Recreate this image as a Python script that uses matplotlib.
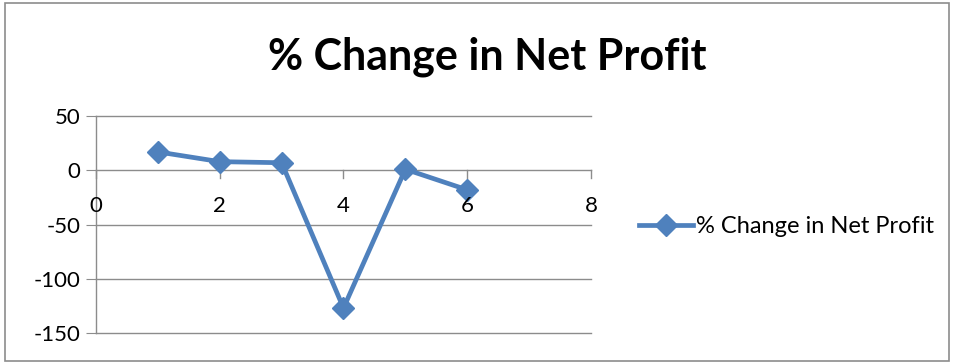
"""
% Change in Net Profit - Excel style line chart
"""
import matplotlib
matplotlib.use("Agg")
import matplotlib.pyplot as plt
from matplotlib.patches import Rectangle

# data
years = [1, 2, 3, 4, 5, 6]
pct_change = [17, 8, 7, -127, 1, -18]
x_ticks = [0, 2, 4, 6, 8]
y_ticks = [-150, -100, -50, 0, 50]
series_name = "% Change in Net Profit"

plt.rcParams['font.family'] = ['Lato', 'DejaVu Sans']
plt.rcParams['axes.unicode_minus'] = False

fig = plt.figure(figsize=(9.54, 3.64), dpi=100)
fig.patch.set_facecolor("white")
# chart border
fig.patches.append(Rectangle((0.005, 0.008), 0.99, 0.984, transform=fig.transFigure,
                             fill=False, edgecolor="#8c8c8c", linewidth=1.2))

ax = fig.add_axes([0.1006, 0.0852, 0.5189, 0.5958])
blue = "#4F81BD"
ax.plot(years, pct_change, color=blue, linewidth=3.4, marker="D", markersize=11,
        label=series_name, zorder=3)

ax.set_xlim(0, 8)
ax.set_ylim(-150, 50)
ax.set_xticks(x_ticks)
ax.set_yticks(y_ticks)
ax.set_axisbelow(True)
for v in y_ticks:
    ax.axhline(v, color="#8c8c8c", linewidth=1, zorder=1, clip_on=False)

for s in ["top", "right", "bottom"]:
    ax.spines[s].set_visible(False)
ax.spines["left"].set_color("#8c8c8c")
ax.spines["left"].set_linewidth(1)

# x axis sits at y = 0
for t in x_ticks:
    ax.plot([t, t], [0, -7], color="#8c8c8c", linewidth=1, clip_on=False, zorder=1)
    ax.text(t, -24, str(t), ha="center", va="top", fontsize=16)
ax.tick_params(axis="x", length=0, labelbottom=False)
ax.tick_params(axis="y", length=7, color="#8c8c8c", labelsize=16, pad=4)

fig.text(0.511, 0.845, "% Change in Net Profit", ha="center", va="center",
         fontsize=31, fontweight="bold")

fig.legend(loc="center left", bbox_to_anchor=(0.660, 0.377), frameon=False,
           fontsize=17, handlelength=2.3, handletextpad=0.1, borderaxespad=0)

plt.savefig("out.png", dpi=100)
